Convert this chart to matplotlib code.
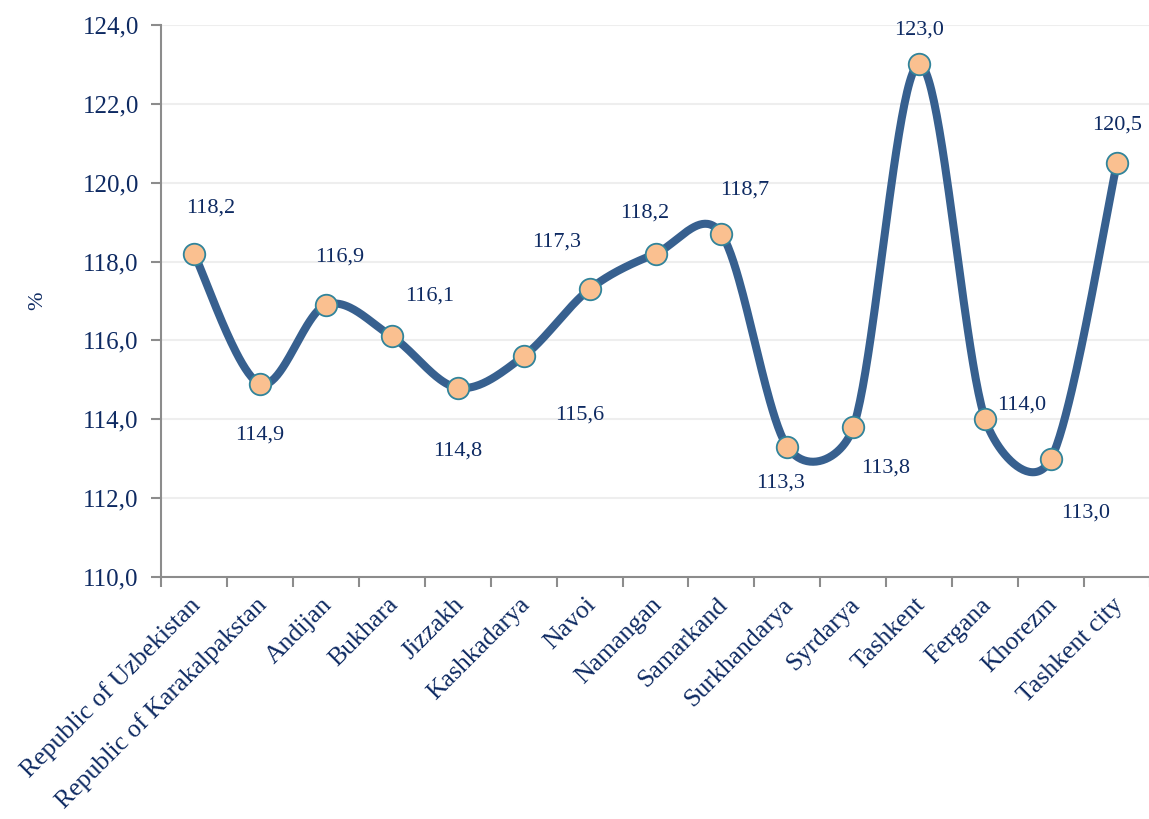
import matplotlib
matplotlib.use("Agg")
import matplotlib.pyplot as plt
import matplotlib.transforms as mtrans
import numpy as np

regions = ["Republic of Uzbekistan", "Republic of Karakalpakstan", "Andijan", "Bukhara",
           "Jizzakh", "Kashkadarya", "Navoi", "Namangan", "Samarkand", "Surkhandarya",
           "Syrdarya", "Tashkent", "Fergana", "Khorezm", "Tashkent city"]
values = [118.2, 114.9, 116.9, 116.1, 114.8, 115.6, 117.3, 118.2, 118.7, 113.3,
          113.8, 123.0, 114.0, 113.0, 120.5]
y_ticks = [110, 112, 114, 116, 118, 120, 122, 124]

# label offsets in pixels (layout only)
label_offsets = [(17, 46), (0, -51), (14, 48), (38, 40), (0, -63), (56, -59),
                 (-33, 47), (-11, 41), (23, 44), (-7, -36), (32, -41), (0, 34),
                 (37, 14), (35, -54), (0, 38)]

TEXT = "#0E2A62"
LINE = "#37608F"
plt.rcParams['font.family'] = ['Liberation Serif', 'DejaVu Serif']


def smooth(xs, ys, sx=66.0, sy=39.4, n=50):
    # Excel-like smoothing: 1/6 bezier arms, clamped to half the segment
    P = np.column_stack([xs * sx, ys * sy])
    P = np.vstack([P[0], P, P[-1]])
    out = []
    for i in range(1, len(P) - 2):
        p0, p1, p2, p3 = P[i - 1], P[i], P[i + 1], P[i + 2]
        d12 = np.linalg.norm(p2 - p1)
        d02 = np.linalg.norm(p2 - p0)
        d13 = np.linalg.norm(p3 - p1)
        f = 1 / 6 if d02 / 6 < d12 / 2 else d12 / 2 / d02
        g = 1 / 6 if d13 / 6 < d12 / 2 else d12 / 2 / d13
        c1 = p1 + (p2 - p0) * f
        c2 = p2 - (p3 - p1) * g
        t = np.linspace(0, 1, n)[:, None]
        b = (1 - t) ** 3 * p1 + 3 * (1 - t) ** 2 * t * c1 + 3 * (1 - t) * t ** 2 * c2 + t ** 3 * p2
        out.append(b)
    out = np.vstack(out)
    return out[:, 0] / sx, out[:, 1] / sy


fig = plt.figure(figsize=(11.49, 8.19), dpi=100)
ax = fig.add_axes([161 / 1149, 1 - 577 / 819, (1150 - 161) / 1149, (577 - 25) / 819])

x = np.arange(len(values))
cx, cy = smooth(x.astype(float), np.array(values))
ax.plot(cx, cy, color=LINE, lw=5.8, solid_capstyle='round', zorder=3)
ax.plot(x, values, 'o', ms=15.5, mfc="#FAC090", mec="#31849B", mew=1.3, zorder=4)

for xi, v, (dx, dy) in zip(x, values, label_offsets):
    ax.annotate(f"{v:.1f}".replace(".", ","), (xi, v), xytext=(dx, dy),
                textcoords='offset pixels', ha='center', va='center',
                fontsize=16, color=TEXT)

ax.set_xlim(-0.5, len(values) - 0.5)
ax.set_ylim(110, 124)
ax.set_yticks(y_ticks)
ax.set_yticklabels([f"{t:.1f}".replace(".", ",") for t in y_ticks], fontsize=18, color=TEXT)
ax.set_xticks(x)
ax.set_xticklabels(regions, rotation=45, ha='right', rotation_mode='anchor',
                   fontsize=18.5, color=TEXT)
ax.set_xticks(np.arange(len(values) + 1) - 0.5, minor=True)
ax.tick_params(axis='x', which='major', length=0, pad=12)
ax.tick_params(axis='x', which='minor', length=7, width=1.5, color="#8C8C8C")
ax.tick_params(axis='y', length=7, width=1.5, color="#8C8C8C", pad=9)

# nudge rotated category labels left, as in the original
shift = mtrans.ScaledTranslation(-5 / 100, 0, fig.dpi_scale_trans)
for lab in ax.get_xticklabels():
    lab.set_transform(lab.get_transform() + shift)

ax.yaxis.grid(True, color="#EEEEEE", lw=1.5)
ax.set_axisbelow(True)
for s in ['top', 'right']:
    ax.spines[s].set_visible(False)
for s in ['left', 'bottom']:
    ax.spines[s].set_color("#8C8C8C")
    ax.spines[s].set_linewidth(1.5)

ax.set_ylabel("%", fontsize=16, color=TEXT)
ax.yaxis.set_label_coords((47 - 161) / (1150 - 161), 0.5)

fig.savefig("out.png", dpi=100)
